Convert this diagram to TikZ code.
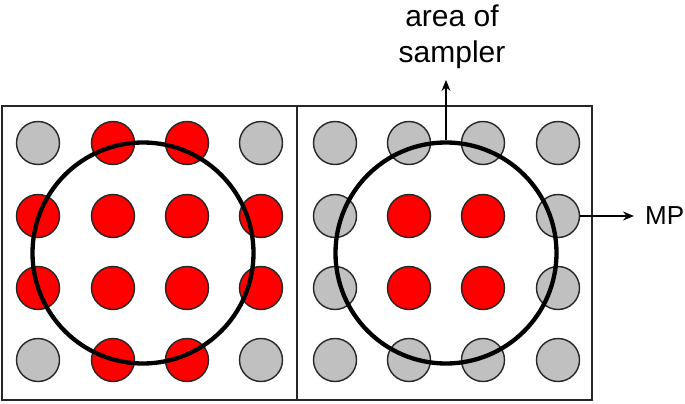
\documentclass[tikz,border=0pt]{standalone}
\usepackage{fontspec}
\setmainfont{Liberation Sans}
\usetikzlibrary{arrows.meta}
\definecolor{dotgray}{RGB}{192,192,192}
\definecolor{dotred}{RGB}{255,0,0}
\begin{document}
\begin{tikzpicture}[x=1pt,y=-1pt,
  panel/.style={draw=black!85,line width=1.4pt},
  dot/.style={circle,draw=black!85,line width=1.4pt,minimum size=43pt,inner sep=0pt},
  gdot/.style={dot,fill=dotgray},
  rdot/.style={dot,fill=dotred},
  sampler/.style={circle,draw=black,line width=4.3pt,minimum size=221pt,inner sep=0pt},
  conn/.style={line width=1.4pt,-{Stealth[length=11pt,width=9pt]}},
  lbl/.style={font=\fontsize{30}{36}\selectfont,align=center,inner sep=0pt}
]
\useasboundingbox (0,0) rectangle (685,404);
% panels
\draw[panel] (2,106) rectangle (297,400);
\draw[panel] (297,106) rectangle (592,400);
% left panel dots
\node[gdot] (L11) at (38,143) {};
\node[rdot] (L12) at (113,143) {};
\node[rdot] (L13) at (187,143) {};
\node[gdot] (L14) at (261,143) {};
\node[rdot] (L21) at (38,216) {};
\node[rdot] (L22) at (113,216) {};
\node[rdot] (L23) at (187,216) {};
\node[rdot] (L24) at (261,216) {};
\node[rdot] (L31) at (38,288) {};
\node[rdot] (L32) at (113,288) {};
\node[rdot] (L33) at (187,288) {};
\node[rdot] (L34) at (261,288) {};
\node[gdot] (L41) at (38,360) {};
\node[rdot] (L42) at (113,360) {};
\node[rdot] (L43) at (187,360) {};
\node[gdot] (L44) at (261,360) {};
% right panel dots
\node[gdot] (R11) at (335,143) {};
\node[gdot] (R12) at (409,143) {};
\node[gdot] (R13) at (483,143) {};
\node[gdot] (R14) at (558,143) {};
\node[gdot] (R21) at (335,216) {};
\node[rdot] (R22) at (409,216) {};
\node[rdot] (R23) at (483,216) {};
\node[gdot] (R24) at (558,216) {};
\node[gdot] (R31) at (335,288) {};
\node[rdot] (R32) at (409,288) {};
\node[rdot] (R33) at (483,288) {};
\node[gdot] (R34) at (558,288) {};
\node[gdot] (R41) at (335,360) {};
\node[gdot] (R42) at (409,360) {};
\node[gdot] (R43) at (483,360) {};
\node[gdot] (R44) at (558,360) {};
% sampler circles
\node[sampler] (SL) at (143,253) {};
\node[sampler] (SR) at (446,253) {};
% labels
\node[lbl] (area) at (452,37) {area of\\sampler};
\node[lbl,anchor=west,font=\fontsize{26}{30}\selectfont] (MP) at (645,216) {MP};
\coordinate (uptip) at (SR.north |- 0,80);
\coordinate (mptip) at (634,216);
% connectors
\draw[conn] (SR.north) -- (uptip);
\draw[conn] (R24.east) -- (mptip);
\end{tikzpicture}
\end{document}
